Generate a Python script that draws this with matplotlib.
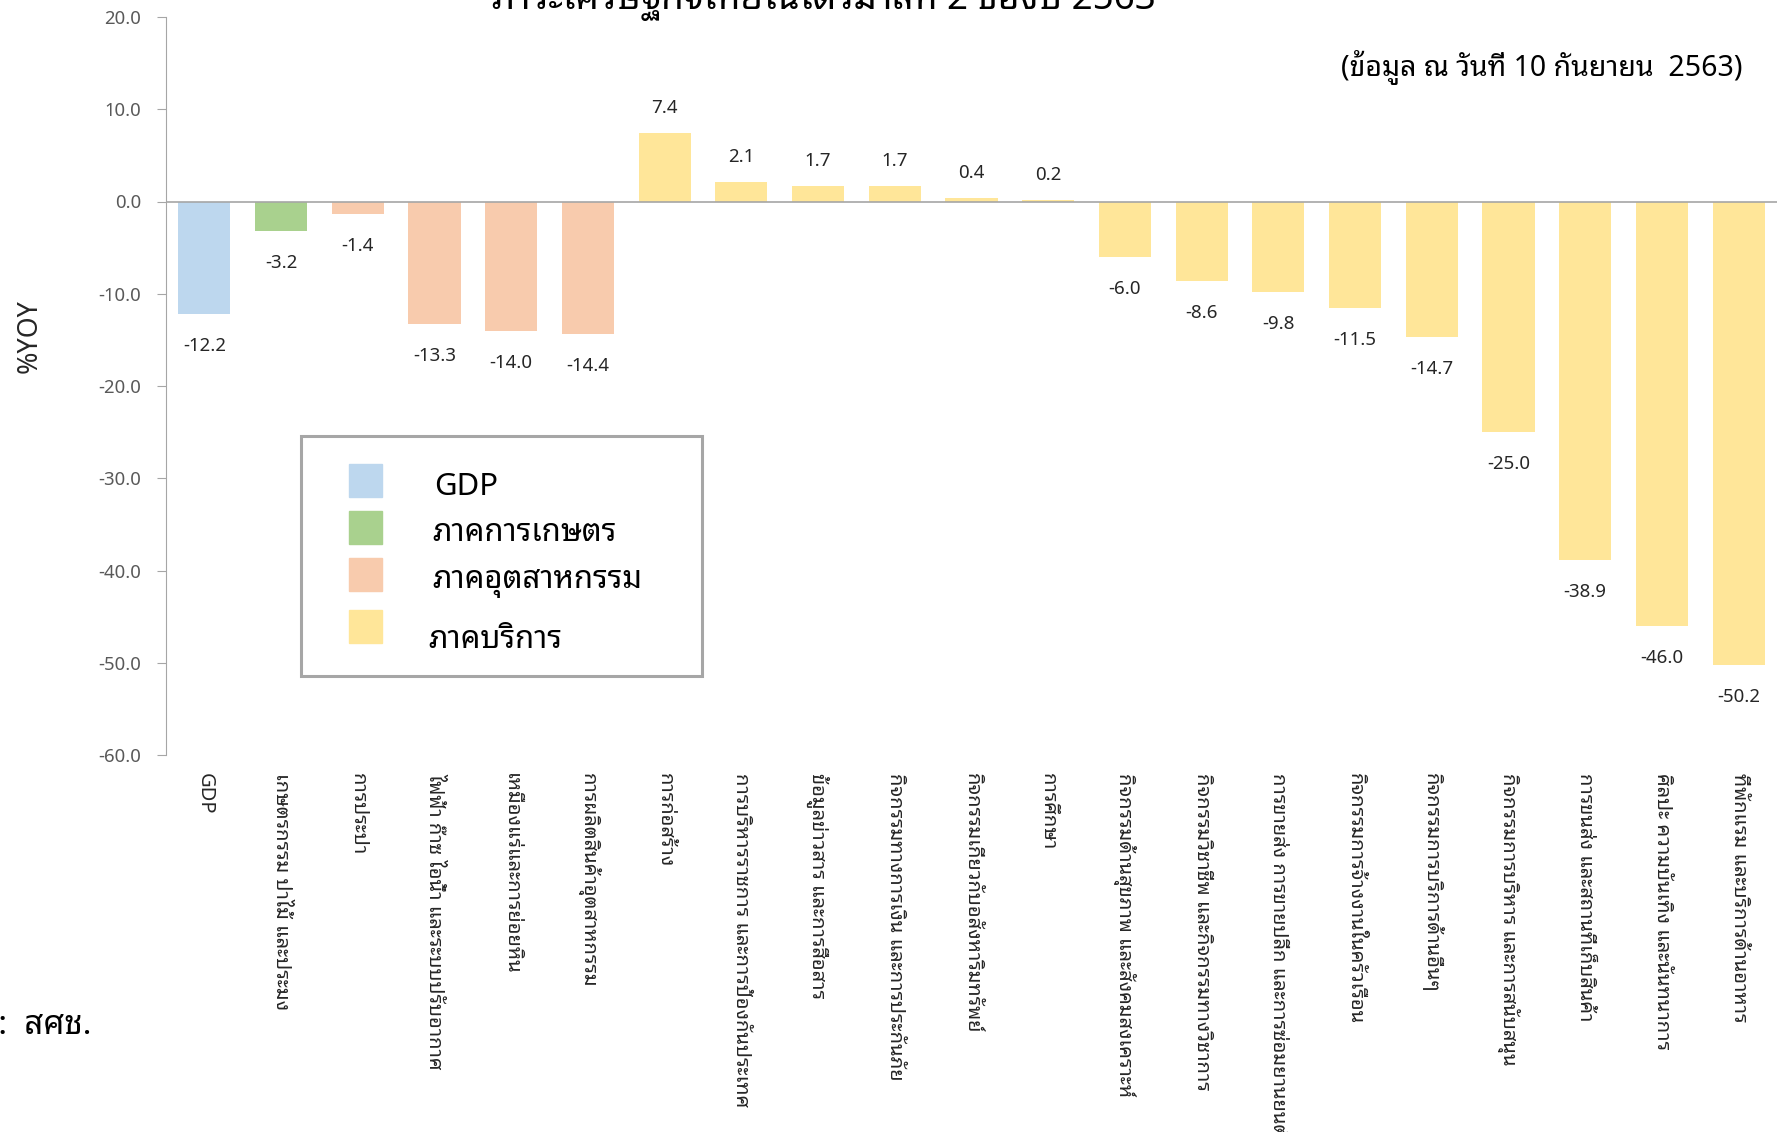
import matplotlib
matplotlib.use("Agg")
import matplotlib.pyplot as plt
from matplotlib.patches import Rectangle

# ---------------- data ----------------
categories = [
    "GDP",
    "เกษตรกรรม ป่าไม้ และประมง",
    "การประปา",
    "ไฟฟ้า ก๊าซ ไอน้ำ และระบบปรับอากาศ",
    "เหมืองแร่และการย่อยหิน",
    "การผลิตสินค้าอุตสาหกรรม",
    "การก่อสร้าง",
    "การบริหารราชการ และการป้องกันประเทศ",
    "ข้อมูลข่าวสาร และการสื่อสาร",
    "กิจกรรมทางการเงิน และการประกันภัย",
    "กิจกรรมเกี่ยวกับอสังหาริมทรัพย์",
    "การศึกษา",
    "กิจกรรมด้านสุขภาพ และสังคมสงเคราะห์",
    "กิจกรรมวิชาชีพ และกิจกรรมทางวิชาการ",
    "การขายส่ง การขายปลีก และการซ่อมยานยนต์",
    "กิจกรรมการจ้างงานในครัวเรือน",
    "กิจกรรมการบริการด้านอื่นๆ",
    "กิจกรรมการบริหาร และการสนับสนุน",
    "การขนส่ง และสถานที่เก็บสินค้า",
    "ศิลปะ ความบันเทิง และนันทนาการ",
    "ที่พักแรม และบริการด้านอาหาร",
]
values = [-12.2, -3.2, -1.4, -13.3, -14.0, -14.4, 7.4, 2.1, 1.7, 1.7, 0.4, 0.2,
          -6.0, -8.6, -9.8, -11.5, -14.7, -25.0, -38.9, -46.0, -50.2]
sectors = [0, 1, 2, 2, 2, 2, 3, 3, 3, 3, 3, 3, 3, 3, 3, 3, 3, 3, 3, 3, 3]
sector_names = ["GDP", "ภาคการเกษตร", "ภาคอุตสาหกรรม", "ภาคบริการ"]
sector_colors = ["#BDD7EE", "#A9D18E", "#F8CBAD", "#FFE699"]
yticks = [20, 10, 0, -10, -20, -30, -40, -50, -60]
title = "ภาวะเศรษฐกิจไทยในไตรมาสที่ 2 ของปี 2563"
subtitle = "(ข้อมูล ณ วันที่ 10 กันยายน  2563)"
source = "ที่มา:  สศช."
ylabel = "%YOY"

FONT = ["Noto Sans Thai Looped", "Noto Sans", "DejaVu Sans"]
plt.rcParams['font.family'] = FONT

W, H = 1783, 1132
PT = 72 / 100  # points per pixel
fig = plt.figure(figsize=(W / 100, H / 100), dpi=100)
renderer = fig.canvas.get_renderer()


def fit(t, target, dim="w"):
    ext = t.get_window_extent(renderer)
    cur = ext.width if dim == "w" else ext.height
    t.set_fontsize(t.get_fontsize() * target / cur)
    return t.get_fontsize()


ax = fig.add_axes([166 / W, 1 - 755 / H, (1777 - 166) / W, (755 - 17) / H])

x = list(range(len(values)))
colors = [sector_colors[s] for s in sectors]
ax.bar(x, values, width=0.68, color=colors, zorder=2)
ax.axhline(0, color="#A6A6A6", lw=1.2, zorder=3)

vlabels = []
for xi, v in zip(x, values):
    off = 20 * PT if v >= 0 else -37 * PT
    t = ax.annotate(f"{v:.1f}", (xi, v), xytext=(0, off), textcoords="offset points",
                    ha="center", va="baseline", fontsize=12, color="#262626")
    vlabels.append(t)
vs = fit(vlabels[0], 43)
for t in vlabels:
    t.set_fontsize(vs)

ax.set_xlim(-0.5, len(values) - 0.5)
ax.set_ylim(-60, 20)
ax.set_yticks(yticks)
ylabs = ax.set_yticklabels([f"{t:.1f}" for t in yticks], fontsize=11, color="#595959")
ax.tick_params(axis="y", length=9 * PT, color="#A6A6A6", pad=16 * PT)
ys = fit(ylabs[-1], 43)
for t in ylabs:
    t.set_fontsize(ys)

ax.set_xticks(x)
xlabs = ax.set_xticklabels(categories, rotation=270, ha="center", va="top",
                           fontsize=12, color="#262626")
ax.tick_params(axis="x", length=0, pad=18 * PT)
xs = fit(xlabs[3], 296, dim="h")
for t in xlabs:
    t.set_fontsize(xs)

for s in ["top", "right", "bottom"]:
    ax.spines[s].set_visible(False)
ax.spines["left"].set_color("#A6A6A6")

yl = fig.text(30 / W, 1 - 336 / H, ylabel, rotation=90, ha="center", va="center",
              fontsize=18, color="#262626")
fit(yl, 74, dim="h")
tt = fig.text(824 / W, 1 - 9 / H, title, ha="center", va="baseline", fontsize=22,
              weight="bold", color="black")
fit(tt, 664)
st = fig.text(1743 / W, 1 - 76 / H, subtitle, ha="right", va="baseline",
              fontsize=17, color="black")
fit(st, 401)

# legend (manual box)
fig.patches.append(Rectangle((301 / W, 1 - 676 / H), 401 / W, 240 / H,
                             transform=fig.transFigure, fill=False,
                             edgecolor="#A6A6A6", lw=2.2))
sq_top = [464, 511, 558, 610]
base = [495, 541, 588, 648]
text_x = [434, 432, 432, 428]
legtexts = []
for name, col, sy, by, tx in zip(sector_names, sector_colors, sq_top, base, text_x):
    fig.patches.append(Rectangle((349 / W, 1 - (sy + 33) / H), 33 / W, 33 / H,
                                 transform=fig.transFigure, color=col))
    legtexts.append(fig.text(tx / W, 1 - by / H, name, ha="left", va="baseline",
                             fontsize=22, color="black"))
ls = fit(legtexts[2], 210)
for t in legtexts:
    t.set_fontsize(ls)

fig.text(92 / W, 1 - 1034 / H, source, ha="right", va="baseline",
         fontsize=ls * 1.06, color="black")

fig.savefig("out.png", dpi=100)
